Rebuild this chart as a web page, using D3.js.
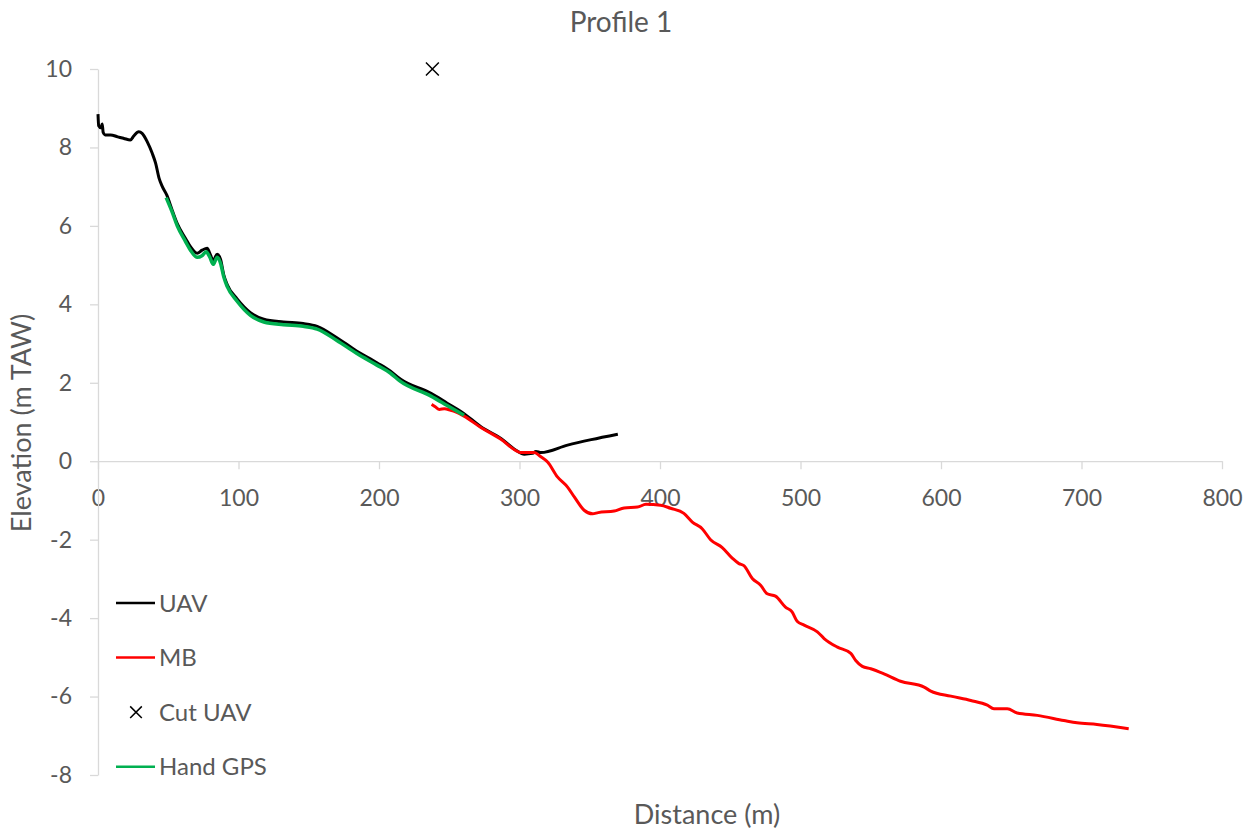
<!DOCTYPE html>
<html>
<head>
<meta charset="utf-8">
<script src="https://cdn.jsdelivr.net/npm/d3@7"></script>
<style>
  body { margin: 0; background: #fff; }
  svg { display: block; font-family: Lato, "Open Sans", sans-serif; }
</style>
</head>
<body>
<div id="chart"></div>
<script>
// DATA (distance in m, elevation in m TAW)
const uavDist = [0, 0.5, 2, 3, 3.7, 5, 9, 14, 18.4, 23, 25.6, 29, 31.4, 35, 38.6, 41, 43.5, 45.8, 48.9, 52.8, 56.4, 62.3, 65.8, 70.6, 74.1, 77.7, 79.6, 82, 84.8, 87.2, 89.5, 92, 99, 108.5, 118, 132, 146, 156, 170, 184, 198.5, 208, 215.4, 237, 248.5, 260.3, 272.5, 286.8, 297.5, 303.4, 309.3, 311.7, 315.2, 334.2, 351, 370];
const uavElev = [8.85, 8.55, 8.5, 8.6, 8.38, 8.32, 8.32, 8.27, 8.23, 8.19, 8.3, 8.4, 8.36, 8.15, 7.85, 7.6, 7.21, 7.0, 6.79, 6.4, 6.06, 5.68, 5.47, 5.3, 5.38, 5.43, 5.3, 5.12, 5.28, 5.15, 4.75, 4.5, 4.14, 3.79, 3.62, 3.55, 3.51, 3.44, 3.15, 2.81, 2.51, 2.3, 2.09, 1.73, 1.48, 1.22, 0.88, 0.58, 0.28, 0.18, 0.2, 0.25, 0.22, 0.41, 0.55, 0.69];

const mbDist = [237.5, 240, 243, 246.5, 251, 253.6, 260.5, 272.5, 286.8, 297.5, 301, 310.5, 315, 320, 327, 334.2, 339, 346, 352, 356, 367.4, 374.5, 384, 390, 400.4, 407.5, 417, 423, 430, 436, 444.3, 451.4, 456.2, 459.7, 465.7, 471.6, 476.3, 482.2, 489.3, 494, 497.6, 502.6, 512, 516.8, 526.3, 535.8, 539.3, 544, 550, 559.4, 571.2, 588, 592.7, 607, 621.2, 633, 637.7, 647.2, 654.3, 668.5, 687.4, 696.8, 711, 733.6];
const mbElev = [1.45, 1.39, 1.32, 1.34, 1.3, 1.27, 1.15, 0.86, 0.56, 0.27, 0.22, 0.22, 0.12, -0.02, -0.4, -0.66, -0.91, -1.25, -1.34, -1.31, -1.27, -1.19, -1.17, -1.1, -1.12, -1.2, -1.33, -1.55, -1.72, -2.0, -2.2, -2.47, -2.61, -2.66, -2.99, -3.16, -3.38, -3.44, -3.72, -3.84, -4.08, -4.18, -4.35, -4.52, -4.74, -4.9, -5.08, -5.23, -5.29, -5.42, -5.61, -5.76, -5.86, -5.99, -6.1, -6.22, -6.31, -6.31, -6.42, -6.48, -6.61, -6.67, -6.71, -6.82];

const cutDist = [238];
const cutElev = [10];

const gpsDist = [48.5, 52.8, 56.4, 62.3, 65.8, 70.6, 74, 77, 79.6, 82, 84.8, 87.2, 89.5, 92, 99, 108.5, 118, 132, 146, 156, 170, 184, 198.5, 208, 215, 237, 248.5, 260.5];
const gpsElev = [6.72, 6.35, 6.0, 5.6, 5.38, 5.2, 5.24, 5.34, 5.2, 5.02, 5.2, 5.05, 4.7, 4.45, 4.08, 3.72, 3.55, 3.48, 3.44, 3.37, 3.08, 2.75, 2.45, 2.25, 2.04, 1.66, 1.42, 1.17];

const xTicks = [0, 100, 200, 300, 400, 500, 600, 700, 800];
const yTicks = [-8, -6, -4, -2, 0, 2, 4, 6, 8, 10];

const legendLabels = ["UAV", "MB", "Cut UAV", "Hand GPS"];
const legendColors = ["#000000", "#ff0000", "#000000", "#00b050"];

// SIZE
const svgWidth = 1255;
const svgHeight = 831;
const textColor = "#595959";
const axisColor = "#d9d9d9";

const zip = (xs, ys) => xs.map((d, i) => [d, ys[i]]);

// SCALES
const xScale = d3.scaleLinear().domain([0, 800]).range([98, 1222]);
const yScale = d3.scaleLinear().domain([-8, 10]).range([775, 69]);

const svg = d3
  .select("#chart")
  .append("svg")
  .attr("width", svgWidth)
  .attr("height", svgHeight);

// TITLE
svg
  .append("text")
  .attr("x", 621)
  .attr("y", 32)
  .attr("text-anchor", "middle")
  .style("font-size", "28px")
  .style("fill", textColor)
  .text("Profile 1");

// AXES (plain hyphen for negatives, like the original)
const xAxis = d3
  .axisBottom(xScale)
  .tickValues(xTicks)
  .tickFormat(d => String(d))
  .tickSizeInner(8)
  .tickSizeOuter(0)
  .tickPadding(20);

const yAxis = d3
  .axisLeft(yScale)
  .tickValues(yTicks)
  .tickFormat(d => String(d))
  .tickSizeInner(8)
  .tickSizeOuter(0)
  .tickPadding(18);

const gx = svg
  .append("g")
  .attr("transform", `translate(0,${yScale(0)})`)
  .call(xAxis);

const gy = svg
  .append("g")
  .attr("transform", `translate(${xScale(0)},0)`)
  .call(yAxis);

[gx, gy].forEach(g => {
  g.select(".domain").attr("stroke", axisColor).attr("stroke-width", 1.3);
  g.selectAll(".tick line").attr("stroke", axisColor).attr("stroke-width", 1.3);
  g.selectAll(".tick text")
    .style("font-size", "23px")
    .style("font-family", "Lato, 'Open Sans', sans-serif")
    .attr("fill", textColor);
});

// AXIS TITLES
svg
  .append("text")
  .attr("x", 707)
  .attr("y", 824)
  .attr("text-anchor", "middle")
  .style("font-size", "27px")
  .style("fill", textColor)
  .text("Distance (m)");

svg
  .append("text")
  .attr("transform", "translate(31,423) rotate(-90)")
  .attr("text-anchor", "middle")
  .style("font-size", "27px")
  .style("fill", textColor)
  .text("Elevation (m TAW)");

// LINES
const line = d3
  .line()
  .x(d => xScale(d[0]))
  .y(d => yScale(d[1]))
  .curve(d3.curveMonotoneX);

const series = [
  { data: zip(uavDist, uavElev), color: legendColors[0], width: 3 },
  { data: zip(mbDist, mbElev), color: legendColors[1], width: 3 }
];

series.forEach(s => {
  svg
    .append("path")
    .datum(s.data)
    .attr("d", line)
    .attr("fill", "none")
    .attr("stroke", s.color)
    .attr("stroke-width", s.width)
    .attr("stroke-linejoin", "round");
});

// CUT UAV MARKER
const cross = d3.symbol().type(d3.symbolX).size(110);
svg
  .selectAll(".cut")
  .data(zip(cutDist, cutElev))
  .enter()
  .append("path")
  .attr("class", "cut")
  .attr("d", cross)
  .attr("transform", d => `translate(${xScale(d[0])},${yScale(d[1])})`)
  .attr("fill", "none")
  .attr("stroke", "#000")
  .attr("stroke-width", 1.5);

// HAND GPS (drawn last, on top)
svg
  .append("path")
  .datum(zip(gpsDist, gpsElev))
  .attr("d", line)
  .attr("fill", "none")
  .attr("stroke", legendColors[3])
  .attr("stroke-width", 3.5)
  .attr("stroke-linejoin", "round");

// LEGEND
const legend = svg
  .selectAll(".legend")
  .data(legendLabels)
  .enter()
  .append("g")
  .attr("class", "legend")
  .attr("transform", (d, i) => `translate(116,${603 + i * 54.6})`);

legend.each(function(d, i) {
  const g = d3.select(this);
  if (d === "Cut UAV") {
    g.append("path")
      .attr("d", d3.symbol().type(d3.symbolX).size(90))
      .attr("transform", "translate(20,0)")
      .attr("fill", "none")
      .attr("stroke", "#000")
      .attr("stroke-width", 1.5);
  } else {
    g.append("line")
      .attr("x1", 0)
      .attr("x2", 39)
      .attr("stroke", legendColors[i])
      .attr("stroke-width", 2.5);
  }
  g.append("text")
    .attr("x", 43)
    .attr("y", 8.5)
    .style("font-size", "24px")
    .style("fill", textColor)
    .text(d);
});
</script>
</body>
</html>
